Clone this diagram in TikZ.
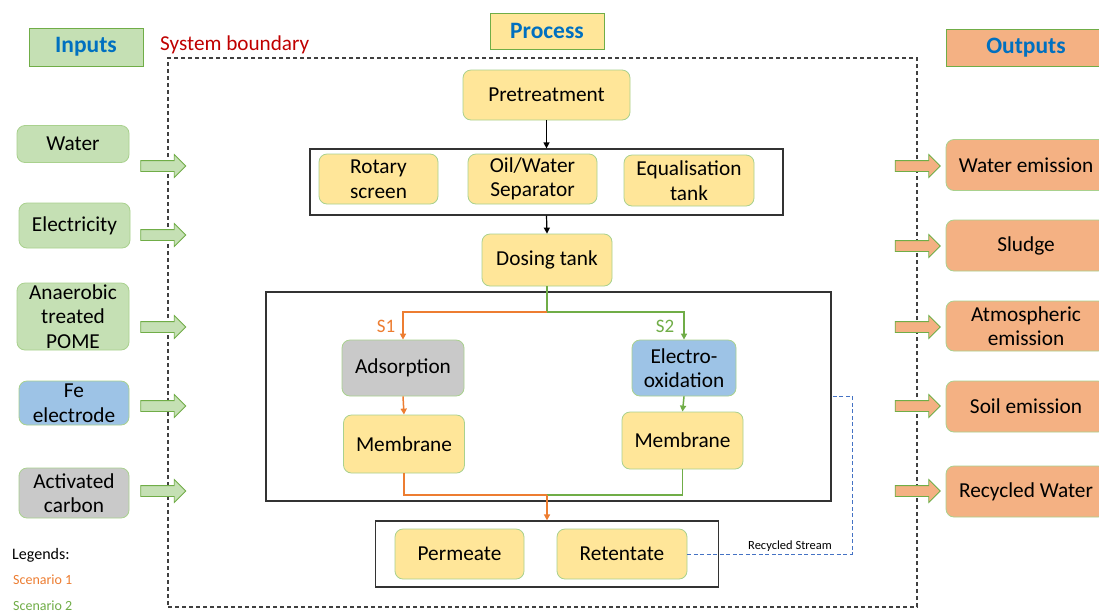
\documentclass[tikz,border=0pt]{standalone}
\usepackage{fontspec}
\setmainfont{Carlito}
\usetikzlibrary{shapes.arrows,arrows.meta}
\definecolor{ingreen}{HTML}{C5E0B4}
\definecolor{gborder}{HTML}{70AD47}
\definecolor{lborder}{HTML}{A9D18E}
\definecolor{yel}{HTML}{FFE699}
\definecolor{outor}{HTML}{F4B183}
\definecolor{gryfill}{HTML}{C9C9C9}
\definecolor{bluefill}{HTML}{9DC3E6}
\definecolor{hdrblue}{HTML}{0070C0}
\definecolor{sysred}{HTML}{C00000}
\definecolor{orline}{HTML}{ED7D31}
\definecolor{dashblue}{HTML}{4472C4}
\tikzset{
  box/.style={draw=lborder, line width=0.8pt, rounded corners=8pt, align=center,
    font=\fontsize{21.3}{24.5}\selectfont, inner sep=0pt},
  inbox/.style={box, fill=ingreen},
  ybox/.style={box, fill=yel},
  obox/.style={box, fill=outor},
  header/.style={draw=gborder, line width=1pt, font=\fontsize{23.5}{25}\selectfont\bfseries,
    text=hdrblue, inner sep=0pt},
  frame/.style={draw=black!80, line width=1.2pt, inner sep=0pt},
  barrow/.style={single arrow, draw=gborder, line width=0.8pt, inner sep=5pt,
    single arrow head extend=6pt, minimum height=45pt, anchor=center},
  blk/.style={draw=black, line width=1.2pt, -{Triangle[length=6pt,width=6pt]}},
  oline/.style={draw=orline, line width=1.5pt},
  gline/.style={draw=gborder, line width=1.5pt},
  tip/.style={-{Triangle[length=6pt,width=6pt]}},
}
\begin{document}
\begin{tikzpicture}[x=1pt,y=-1pt]
\useasboundingbox[fill=white] (0,0) rectangle (1099,614);
% system boundary
\node[draw=black!75, dash pattern=on 4pt off 3pt, line width=1.2pt, minimum width=749pt, minimum height=549pt, inner sep=0pt] (sysb) at (542.5,332.5) {};
\node[text=sysred, font=\fontsize{21.2}{23}\selectfont, anchor=west, inner sep=0pt] (sysl) at (160,45) {System boundary};
% headers
\node[header, fill=ingreen, minimum width=114pt, minimum height=38pt] (hin) at (86,47) {Inputs};
\node[header, fill=yel, minimum width=114pt, minimum height=36pt] (hproc) at (547,31) {Process};
\node[header, fill=outor, minimum width=160pt, minimum height=37pt] (hout) at (1026,47.5) {Outputs};
% inputs
\node[inbox, minimum width=112pt, minimum height=37pt] (water) at (73,144) {Water};
\node[inbox, minimum width=111pt, minimum height=45pt] (elec) at (74.5,225.5) {Electricity};
\node[inbox, minimum width=112pt, minimum height=67pt] (pome) at (73,316.5) {Anaerobic\\treated\\POME};
\node[box, fill=bluefill, minimum width=110pt, minimum height=44pt] (fe) at (74,403) {Fe\\electrode};
\node[box, fill=gryfill, minimum width=110pt, minimum height=50pt] (ac) at (74,493) {Activated\\carbon};
\foreach \n/\y in {a1/166,a2/235,a3/327,a4/406,a5/491}
  \node[barrow, fill=ingreen] (\n) at (160.5,\y) {};
% outputs
\node[obox, minimum width=160pt, minimum height=51pt] (wem) at (1026,165) {Water emission};
\node[obox, minimum width=160pt, minimum height=51pt] (sludge) at (1026,245.5) {Sludge};
\node[obox, minimum width=160pt, minimum height=50pt] (atm) at (1026,326) {Atmospheric\\emission};
\node[obox, minimum width=160pt, minimum height=51pt] (soil) at (1026,406.5) {Soil emission};
\node[obox, minimum width=160pt, minimum height=51pt] (rw) at (1026,491.5) {Recycled Water};
\foreach \n/\y in {b1/166,b2/246,b3/327,b4/406,b5/491}
  \node[barrow, fill=outor] (\n) at (915,\y) {};
% process
\node[ybox, minimum width=167pt, minimum height=50pt] (pre) at (546.5,95) {Pretreatment};
\node[frame, minimum width=473pt, minimum height=66pt] (box1) at (546.5,182) {};
\node[ybox, minimum width=119pt, minimum height=50pt] (rot) at (378.5,179) {Rotary\\screen};
\node[ybox, minimum width=129pt, minimum height=50pt] (ows) at (532.5,179) {Oil/Water\\Separator};
\node[ybox, minimum width=130pt, minimum height=51pt] (eq) at (689,180.5) {Equalisation\\tank};
\node[ybox, minimum width=130pt, minimum height=52pt] (dos) at (547,260) {Dosing tank};
\node[frame, minimum width=565pt, minimum height=209pt] (big) at (548.5,396.5) {};
\node[box, fill=gryfill, minimum width=122pt, minimum height=56pt] (ads) at (403,368) {Adsorption};
\node[box, fill=bluefill, minimum width=104pt, minimum height=56pt] (eo) at (684,368) {Electro-\\oxidation};
\node[ybox, minimum width=121pt, minimum height=58pt] (meml) at (404,444) {Membrane};
\node[ybox, minimum width=121pt, minimum height=57pt] (memr) at (682.5,440.5) {Membrane};
\node[frame, minimum width=343pt, minimum height=66pt] (bot) at (547,554) {};
\node[ybox, minimum width=129pt, minimum height=50pt] (perm) at (459.5,554) {Permeate};
\node[ybox, minimum width=130pt, minimum height=50pt] (ret) at (622,554) {Retentate};
% labels
\node[text=orline, font=\fontsize{19}{21}\selectfont, inner sep=0pt] (s1) at (386,326) {S1};
\node[text=gborder, font=\fontsize{19}{21}\selectfont, inner sep=0pt] (s2) at (665,326) {S2};
\node[font=\fontsize{12.5}{14}\selectfont, inner sep=0pt] (rs) at (790,546) {Recycled Stream};
\node[font=\fontsize{16}{18}\selectfont, anchor=west, inner sep=0pt] (leg) at (12,555) {Legends:};
\node[text=orline, font=\fontsize{14}{16}\selectfont, anchor=west, inner sep=0pt] (sc1) at (13,580) {Scenario 1};
\node[text=gborder, font=\fontsize{14}{16}\selectfont, anchor=west, inner sep=0pt] (sc2) at (13,606) {Scenario 2};
% connectors
\draw[blk] (pre.south) -- (box1.north);
\draw[blk] (box1.south) -- (dos.north);
\coordinate (split) at (547,312);
\coordinate (merge) at (547,495);
\draw[gline] (dos.south) -- (split);
\draw[oline, tip] (split) -| (ads.north);
\draw[gline, tip] (split) -| (eo.north);
\draw[oline, tip] (ads.south) -- (meml.north);
\draw[gline, tip] (eo.south) -- (memr.north);
\draw[gline] (memr.south) |- (merge);
\draw[oline] (meml.south) |- (merge);
\draw[oline, tip] (merge) -- (bot.north);
\coordinate (rc) at (852,396);
\draw[dashblue, line width=0.9pt, dash pattern=on 4pt off 2.5pt] (ret.east) -| (rc) -- (big.east |- rc);
\end{tikzpicture}
\end{document}
